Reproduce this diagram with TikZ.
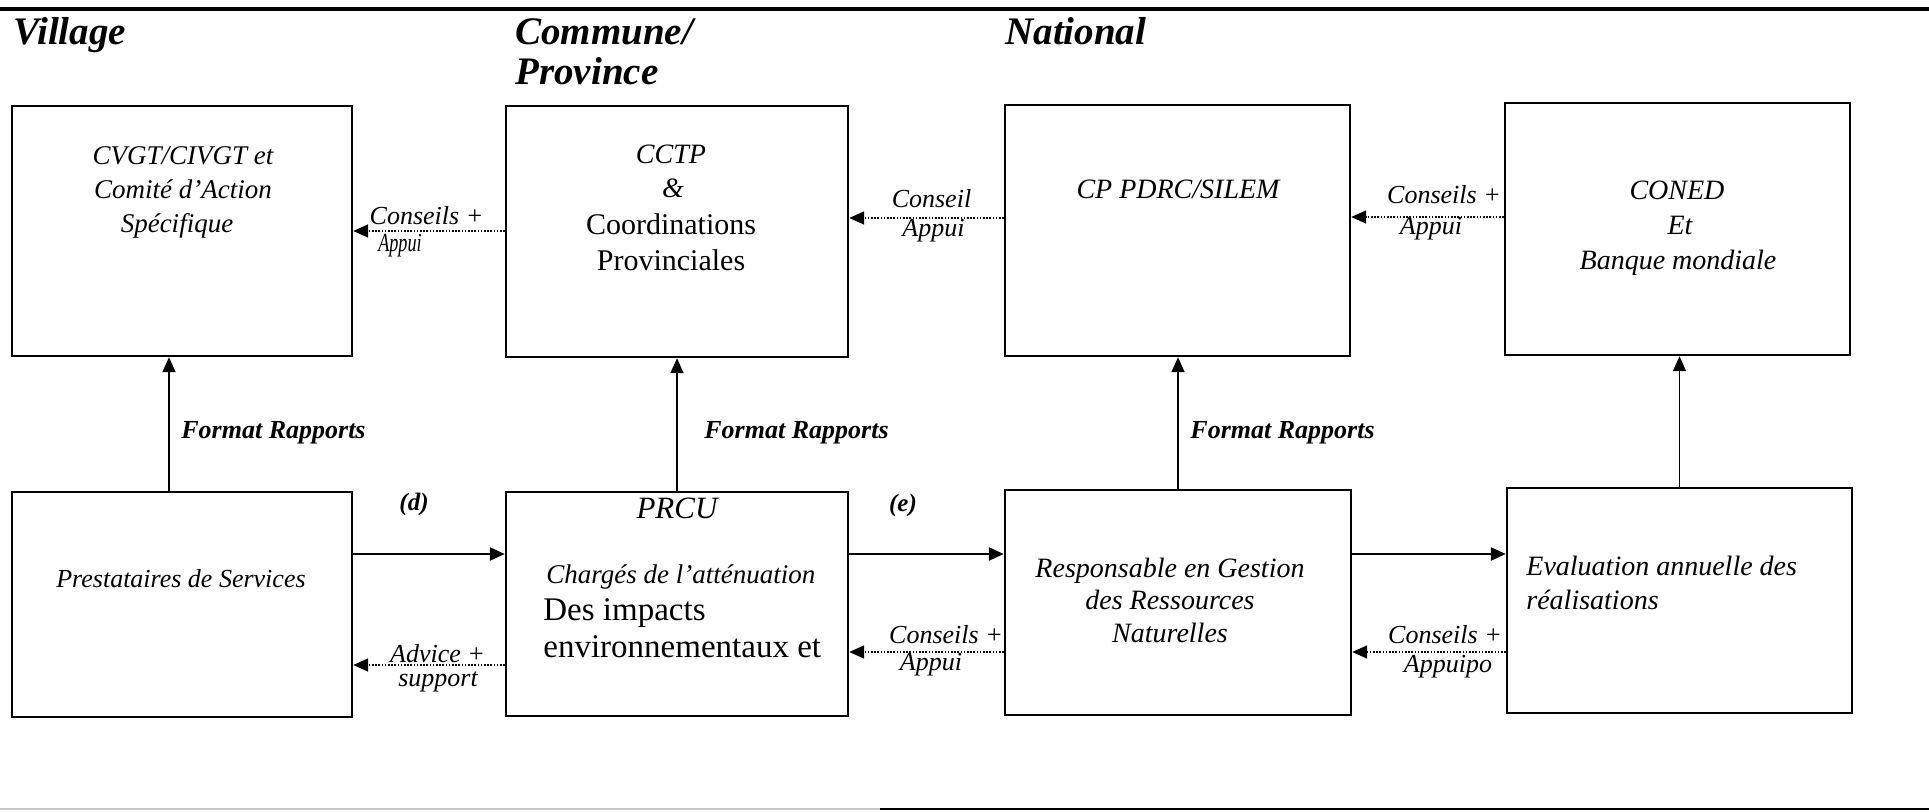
\documentclass[tikz,border=0pt]{standalone}
\usepackage{fontspec}
\setmainfont{Liberation Serif}
\usetikzlibrary{arrows.meta,calc}
\begin{document}
\begin{tikzpicture}[x=0.5pt,y=-0.5pt,
  box/.style={draw,line width=1.2pt,inner sep=0pt},
  hdr/.style={inner sep=0pt,anchor=base west,font=\fontsize{19.5}{22}\selectfont\bfseries\itshape},
  txt/.style={inner sep=0pt,anchor=base,font=\fontsize{14}{16}\selectfont\itshape},
  txtw/.style={inner sep=0pt,anchor=base west,font=\fontsize{14}{16}\selectfont\itshape},
  rom/.style={inner sep=0pt,anchor=base,font=\fontsize{15}{17}\selectfont},
  romw/.style={inner sep=0pt,anchor=base west,font=\fontsize{16.5}{18}\selectfont},
  lbl/.style={inner sep=0pt,anchor=base,font=\fontsize{13}{15}\selectfont\itshape},
  fmt/.style={inner sep=0pt,anchor=base west,font=\fontsize{13}{15}\selectfont\bfseries\itshape},
  lett/.style={inner sep=0pt,anchor=base,font=\fontsize{12.5}{14}\selectfont\bfseries\itshape},
  tip/.style={-{Triangle[length=7.5pt,width=6.5pt]}},
  solidarrow/.style={tip,line width=1.2pt},
  uparrow/.style={tip,line width=0.8pt},
  dotarrow/.style={tip,line width=0.8pt,dash pattern=on 0.8pt off 0.8pt}]
\useasboundingbox (0,0) rectangle (1929,812);
% rules
\draw[line width=1.8pt] (0,9) -- (1929,9);
\draw[line width=1.1pt,gray!45] (0,809) -- (880,809);
\draw[line width=1.1pt] (880,809) -- (1929,809);
% headers
\node[hdr] (hv) at (13,45) {Village};
\node[hdr] (hc) at (515,45) {Commune/};
\node[hdr] (hp) at (515,85) {Province};
\node[hdr] (hn) at (1005,45) {National};
% boxes
\node[box,minimum width=170pt,minimum height=125pt] (b1) at (182,231) {};
\node[box,minimum width=171pt,minimum height=125.5pt] (b2) at (677,231.5) {};
\node[box,minimum width=172.5pt,minimum height=125.5pt] (b3) at (1177.5,230.5) {};
\node[box,minimum width=172.5pt,minimum height=126pt] (b4) at (1677.5,229) {};
\node[box,minimum width=170pt,minimum height=112.5pt] (b5) at (182,604.5) {};
\node[box,minimum width=171pt,minimum height=112pt] (b6) at (677,604) {};
\node[box,minimum width=173pt,minimum height=112.5pt] (b7) at (1178,602.5) {};
\node[box,minimum width=172.5pt,minimum height=112.5pt] (b8) at (1679.5,600.5) {};
% box texts
\node[txt,font=\fontsize{13.5}{16}\selectfont\itshape] (t1a) at (183,165) {CVGT/CIVGT et};
\node[txt,font=\fontsize{13.5}{16}\selectfont\itshape] (t1b) at (183,199) {Comité d'Action};
\node[txt,font=\fontsize{13.5}{16}\selectfont\itshape] (t1c) at (177,233) {Spécifique};
\node[txt] (t2a) at (671,164) {CCTP};
\node[txt] (t2b) at (673,198) {\&};
\node[rom] (t2c) at (671,235) {Coordinations};
\node[rom] (t2d) at (671,271) {Provinciales};
\node[txt] (t3a) at (1178,199) {CP PDRC/SILEM};
\node[txt] (t4a) at (1677,200) {CONED};
\node[txt] (t4b) at (1680,235) {Et};
\node[txt] (t4c) at (1678,270) {Banque mondiale};
\node[txt,font=\fontsize{13}{15}\selectfont\itshape] (t5a) at (181,588) {Prestataires de Services};
\node[txt,font=\fontsize{15.5}{17}\selectfont\itshape] (t6a) at (677,519) {PRCU};
\node[txtw,font=\fontsize{13.5}{16}\selectfont\itshape] (t6b) at (546,584) {Chargés de l'atténuation};
\node[romw] (t6c) at (543,621) {Des impacts};
\node[romw] (t6d) at (543,657) {environnementaux et};
\node[txt] (t7a) at (1170,578) {Responsable en Gestion};
\node[txt] (t7b) at (1170,610) {des Ressources};
\node[txt] (t7c) at (1170,642) {Naturelles};
\node[txtw] (t8a) at (1526,576) {Evaluation annuelle des};
\node[txtw] (t8b) at (1526,610) {réalisations};
% level coordinates
\coordinate (ya1) at (0,231);
\coordinate (ya2) at (0,218);
\coordinate (ya3) at (0,217);
\coordinate (ys) at (0,554);
\coordinate (yb1) at (0,665);
\coordinate (yb2) at (0,652);
\coordinate (x1) at (169,0);
% vertical arrows
\draw[uparrow] (b5.north -| x1) -- (b1.south -| x1);
\draw[uparrow] (b6.north) -- (b2.south -| b6.north);
\draw[uparrow] (b7.north) -- (b3.south -| b7.north);
\draw[uparrow] (b8.north) -- (b4.south -| b8.north);
\node[fmt] (f1) at (181,439) {Format Rapports};
\node[fmt] (f2) at (704,439) {Format Rapports};
\node[fmt] (f3) at (1190,439) {Format Rapports};
% solid horizontal arrows
\draw[solidarrow] (b5.east |- ys) -- (b6.west |- ys);
\draw[solidarrow] (b6.east |- ys) -- (b7.west |- ys);
\draw[solidarrow] (b7.east |- ys) -- (b8.west |- ys);
\node[lett] (ld) at (414,511) {(d)};
\node[lett] (le) at (903,512) {(e)};
% dotted arrows top
\draw[dotarrow] (b2.west |- ya1) -- (b1.east |- ya1);
\draw[dotarrow] (b3.west |- ya2) -- (b2.east |- ya2);
\draw[dotarrow] (b4.west |- ya3) -- (b3.east |- ya3);
\node[lbl] (l1a) at (426.5,225) {Conseils +};
\node[lbl] (l1b) at (400,252) {\scalebox{0.7}[1]{Appui}};
\node[lbl] (l2a) at (931.5,208) {Conseil};
\node[lbl] (l2b) at (933.5,237) {Appui};
\node[lbl] (l3a) at (1444,204) {Conseils +};
\node[lbl] (l3b) at (1431,235) {Appui};
% dotted arrows bottom
\draw[dotarrow] (b6.west |- yb1) -- (b5.east |- yb1);
\draw[dotarrow] (b7.west |- yb2) -- (b6.east |- yb2);
\draw[dotarrow] (b8.west |- yb2) -- (b7.east |- yb2);
\node[lbl] (l4a) at (437.5,662) {Advice +};
\node[lbl] (l4b) at (438,686) {support};
\node[lbl] (l5a) at (946,643) {Conseils +};
\node[lbl] (l5b) at (931,670) {Appui};
\node[lbl] (l6a) at (1445,643) {Conseils +};
\node[lbl] (l6b) at (1448,672) {Appuipo};
\end{tikzpicture}
\end{document}
